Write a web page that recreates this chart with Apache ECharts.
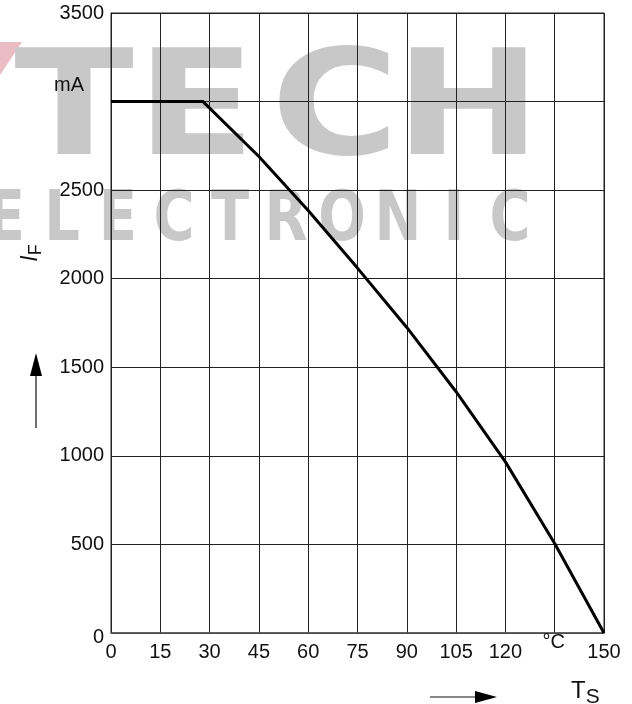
<!DOCTYPE html>
<html>
<head>
<meta charset="utf-8">
<script src="https://cdn.jsdelivr.net/npm/echarts@6/dist/echarts.min.js"></script>
<style>
  html, body { margin: 0; padding: 0; background: #fff; }
  #chart { width: 632px; height: 704px; }
</style>
</head>
<body>
<div id="chart"></div>
<script>
// Forward current derating: I_F (mA) versus solder-point temperature T_S (°C)
const tempC     = [0, 28, 45, 60, 75, 90, 105, 120, 135, 150];
const currentMA = [3000, 3000, 2690, 2385, 2060, 1725, 1362, 966, 505, 0];

// Axis ticks and the text shown under / beside them
const xTicks      = [0, 15, 30, 45, 60, 75, 90, 105, 120, 135, 150];
const xTickLabels = ['0', '15', '30', '45', '60', '75', '90', '105', '120', '°C', '150'];
const yTicks      = [0, 500, 1000, 1500, 2000, 2500, 3000, 3500];
const yTickLabels = ['0', '500', '1000', '1500', '2000', '2500', 'mA', '3500'];
const unitX = '°C';
const unitY = 'mA';

// Background lettering
const wmBigLetters   = ['T', 'E', 'C', 'H'];
const wmSmallLetters = ['E', 'L', 'E', 'C', 'T', 'R', 'O', 'N', 'I', 'C'];

const FONT = '"Liberation Sans", Arial, Helvetica, sans-serif';
const chart = echarts.init(document.getElementById('chart'), null, { renderer: 'canvas' });

chart.setOption({
  animation: false,
  backgroundColor: '#fff',
  grid: { left: 111, right: 28, top: 13, bottom: 71, show: true, borderColor: '#222', borderWidth: 1, backgroundColor: 'transparent' },
  xAxis: {
    type: 'value', min: 0, max: 150, interval: 15,
    axisLine: { show: true, lineStyle: { color: '#555', width: 1.5 } },
    axisTick: { show: false },
    splitLine: { show: true, lineStyle: { color: '#222', width: 1 } },
    axisLabel: {
      margin: 9, color: '#111', fontFamily: FONT, fontSize: 20,
      formatter: v => {
        const s = xTickLabels[xTicks.indexOf(v)];
        return s === unitX ? '' : s;
      }
    }
  },
  yAxis: {
    type: 'value', min: 0, max: 3500, interval: 500,
    axisLine: { show: true, lineStyle: { color: '#222', width: 1 } },
    axisTick: { show: false },
    splitLine: { show: true, lineStyle: { color: '#222', width: 1 } },
    axisLabel: {
      margin: 7, color: '#111', fontFamily: FONT, fontSize: 20,
      formatter: v => {
        const s = yTickLabels[yTicks.indexOf(v)];
        if (s === unitY) return '';
        return v === 0 ? '{z|' + s + '}' : s;
      },
      rich: { z: { fontFamily: FONT, fontSize: 20, color: '#111', padding: [8, 0, 0, 0] } }
    }
  },
  series: [{
    type: 'line',
    data: tempC.map((t, i) => [t, currentMA[i]]),
    showSymbol: false,
    smooth: false,
    lineStyle: { color: '#000', width: 3 },
    z: 5,
    silent: true
  }]
});

// Unit labels sit beside the tick they replace
const unitXPos = chart.convertToPixel({ xAxisIndex: 0 }, xTicks[xTickLabels.indexOf(unitX)]);
const unitYPos = chart.convertToPixel({ yAxisIndex: 0 }, yTicks[yTickLabels.indexOf(unitY)]);

const wmGray = '#c8c8c8';
const graphic = [];
// pink slash in front of the big lettering
graphic.push({
  type: 'polygon', z: -2, silent: true,
  shape: { points: [[0, 42], [22, 42], [0, 75]] },
  style: { fill: '#ecbcc4' }
});
const bigCenters = [74, 196, 335, 468];
wmBigLetters.forEach((t, i) => graphic.push({
  type: 'text', z: -2, silent: true, x: bigCenters[i], y: 116, scaleX: 1.2,
  style: { text: t, fill: wmGray, font: 'bold 146px "DejaVu Sans"', textAlign: 'center', textVerticalAlign: 'middle' }
}));
wmSmallLetters.forEach((t, i) => graphic.push({
  type: 'text', z: -2, silent: true, x: 6 + i * 56, y: 222, scaleX: 0.8,
  style: { text: t, fill: wmGray, font: 'bold 70px "DejaVu Sans"', textAlign: 'center', textVerticalAlign: 'middle' }
}));

graphic.push(
  { type: 'text', x: unitXPos - 1, y: 642, z: 10, silent: true,
    style: { text: unitX, fill: '#111', font: '20px ' + FONT, textAlign: 'center', textVerticalAlign: 'middle' } },
  { type: 'text', x: 84, y: unitYPos - 16, z: 10, silent: true,
    style: { text: unitY, fill: '#111', font: '20px ' + FONT, textAlign: 'right', textVerticalAlign: 'middle' } },
  // I_F axis title, rotated
  { type: 'text', x: 31, y: 253, rotation: Math.PI / 2, z: 10, silent: true,
    style: {
      text: '{i|I}{s|F}', textAlign: 'center', textVerticalAlign: 'middle',
      rich: {
        i: { fontFamily: FONT, fontStyle: 'italic', fontSize: 23, fill: '#111' },
        s: { fontFamily: FONT, fontSize: 18, fill: '#111', padding: [10, 0, 0, 0] }
      }
    } },
  // upward arrow
  { type: 'line', z: 10, silent: true, shape: { x1: 36, y1: 428, x2: 36, y2: 372 }, style: { stroke: '#111', lineWidth: 1.2 } },
  { type: 'polygon', z: 10, silent: true, shape: { points: [[30, 376], [42, 376], [36, 353]] }, style: { fill: '#000' } },
  // rightward arrow
  { type: 'line', z: 10, silent: true, shape: { x1: 430, y1: 697, x2: 478, y2: 697 }, style: { stroke: '#111', lineWidth: 1.2 } },
  { type: 'polygon', z: 10, silent: true, shape: { points: [[475, 691], [475, 703], [497, 697]] }, style: { fill: '#000' } },
  // T_S axis title
  { type: 'text', x: 571, y: 691, z: 10, silent: true,
    style: {
      text: '{t|T}{s|S}', textAlign: 'left', textVerticalAlign: 'middle',
      rich: {
        t: { fontFamily: FONT, fontSize: 24, fill: '#111' },
        s: { fontFamily: FONT, fontSize: 21, fill: '#111', padding: [13, 0, 0, 0] }
      }
    } }
);

chart.setOption({ graphic });
</script>
</body>
</html>
